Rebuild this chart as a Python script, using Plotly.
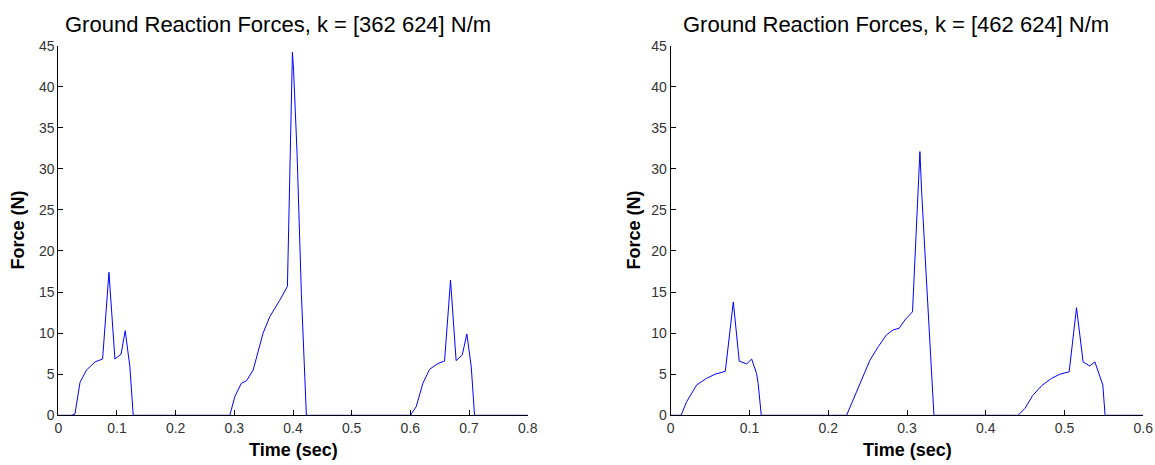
import plotly.graph_objects as go

# Ground reaction force traces (time in s, force in N)
t_left = [0.0, 0.0228, 0.0284, 0.037, 0.048, 0.0625, 0.0755, 0.0863, 0.0965, 0.107,
          0.114, 0.122, 0.1277, 0.2923, 0.3008, 0.312, 0.3207, 0.332, 0.349, 0.3604,
          0.3774, 0.3905, 0.399, 0.401, 0.4069, 0.4143, 0.4228, 0.6, 0.61, 0.6214,
          0.6328, 0.647, 0.6583, 0.6685, 0.678, 0.6885, 0.6963, 0.7038, 0.7094, 0.8]
f_left = [0.0, 0.0, 0.16, 4.0, 5.5, 6.5, 6.85, 17.4, 6.85, 7.45,
          10.3, 5.9, 0.0, 0.0, 2.26, 3.9, 4.2, 5.5, 10.0, 12.0,
          14.0, 15.7, 44.2, 42.0, 31.9, 14.8, 0.0, 0.0, 1.05, 3.9,
          5.6, 6.3, 6.6, 16.45, 6.65, 7.35, 9.9, 5.9, 0.0, 0.0]

t_right = [0.0, 0.0131, 0.0203, 0.033, 0.0457, 0.0562, 0.0693, 0.0795, 0.087, 0.0964,
           0.1028, 0.109, 0.111, 0.115, 0.2233, 0.2402, 0.2529, 0.2635, 0.274, 0.2825,
           0.2901, 0.2973, 0.307, 0.3164, 0.3185, 0.3249, 0.3342, 0.441, 0.4498, 0.4595,
           0.4709, 0.4836, 0.494, 0.5059, 0.5152, 0.5236, 0.532, 0.5385, 0.544, 0.5486,
           0.5515, 0.6]
f_right = [0.0, 0.0, 1.66, 3.7, 4.5, 5.0, 5.35, 13.8, 6.6, 6.25,
           6.85, 5.1, 3.9, 0.0, 0.0, 3.7, 6.7, 8.35, 9.8, 10.4,
           10.6, 11.6, 12.6, 32.1, 27.4, 16.1, 0.0, 0.0, 0.85, 2.4,
           3.6, 4.5, 5.0, 5.3, 13.1, 6.5, 6.0, 6.5, 4.9, 3.7,
           0.0, 0.0]

titles = ["Ground Reaction Forces, k = [362 624] N/m",
          "Ground Reaction Forces, k = [462 624] N/m"]
x_ticks_left = [0, 0.1, 0.2, 0.3, 0.4, 0.5, 0.6, 0.7, 0.8]
x_ticks_right = [0, 0.1, 0.2, 0.3, 0.4, 0.5, 0.6]
y_ticks = [0, 5, 10, 15, 20, 25, 30, 35, 40, 45]

W, H = 1155, 465
dom_left = [58.3 / W, 527.7 / W]
dom_right = [670.7 / W, 1143.3 / W]
dom_y = [(H - 415.3) / H, (H - 45.6) / H]

FONT = "Liberation Sans, Arial, sans-serif"

fig = go.Figure()
fig.add_trace(go.Scatter(x=t_left, y=f_left, mode="lines",
                         line=dict(color="#0000ff", width=1), xaxis="x", yaxis="y"))
fig.add_trace(go.Scatter(x=t_right, y=f_right, mode="lines",
                         line=dict(color="#0000ff", width=1), xaxis="x2", yaxis="y2"))

axis_style = dict(showline=True, linecolor="black", linewidth=1, mirror=False,
                  ticks="inside", ticklen=5, tickcolor="black", tickwidth=1,
                  showgrid=False, zeroline=False, automargin=False,
                  tickfont=dict(family=FONT, size=14, color="#333333"))

fig.update_layout(
    width=W, height=H, autosize=False,
    margin=dict(l=0, r=0, t=0, b=0, pad=0),
    paper_bgcolor="white", plot_bgcolor="white",
    showlegend=False,
    xaxis=dict(domain=dom_left, range=[0, 0.8], tickvals=x_ticks_left,
               ticktext=[f"{v:g}" for v in x_ticks_left], anchor="y", **axis_style),
    yaxis=dict(domain=dom_y, range=[0, 45], tickvals=y_ticks, anchor="x", **axis_style),
    xaxis2=dict(domain=dom_right, range=[0, 0.6], tickvals=x_ticks_right,
                ticktext=[f"{v:g}" for v in x_ticks_right], anchor="y2", **axis_style),
    yaxis2=dict(domain=dom_y, range=[0, 45], tickvals=y_ticks, anchor="x2", **axis_style),
)

annotations = []
for cx_px, dom, title in zip([278, 896], [dom_left, dom_right], titles):
    annotations.append(dict(text=title, x=cx_px / W, y=1 - 24 / H, xref="paper", yref="paper",
                            xanchor="center", yanchor="middle", showarrow=False,
                            font=dict(family=FONT, size=22, color="black")))
    annotations.append(dict(text="<b>Time (sec)</b>", x=(dom[0] + dom[1]) / 2, y=1 - 450 / H,
                            xref="paper", yref="paper", xanchor="center", yanchor="middle",
                            showarrow=False, font=dict(family=FONT, size=18, color="black")))
for xpx in [18, 634]:
    annotations.append(dict(text="<b>Force (N)</b>", x=xpx / W, y=(dom_y[0] + dom_y[1]) / 2,
                            xref="paper", yref="paper", xanchor="center", yanchor="middle",
                            textangle=-90, showarrow=False,
                            font=dict(family=FONT, size=18, color="black")))
fig.update_layout(annotations=annotations)

# Page without body margin so the figure sits flush at its fixed size
page_fix = ("document.body.style.margin='0';"
            "document.documentElement.style.overflow='hidden';"
            "Plotly.relayout('{plot_id}', {width: %d, height: %d});" % (W, H))

fig.write_html("out.html", config={"responsive": False}, post_script=page_fix)
